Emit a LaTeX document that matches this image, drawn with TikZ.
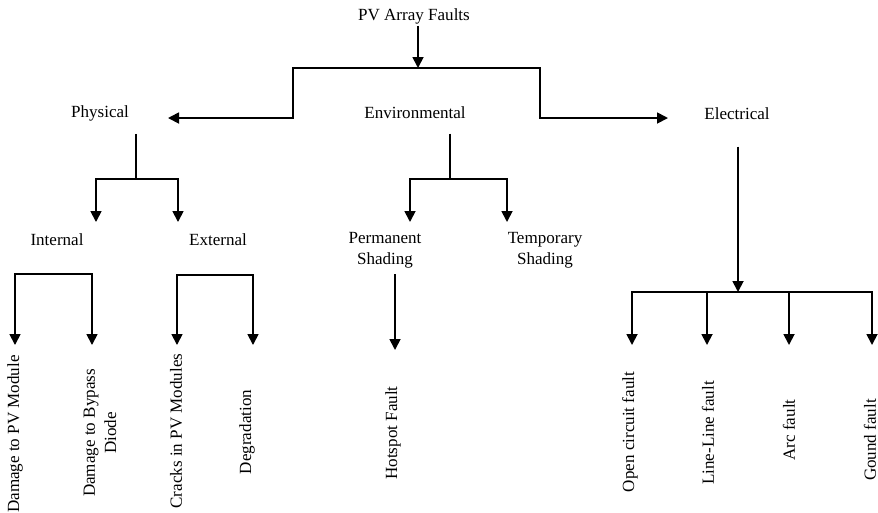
\documentclass[tikz,border=0pt]{standalone}
\usepackage{fontspec}
\setmainfont{Liberation Serif}
\usetikzlibrary{arrows.meta, positioning}

\begin{document}
\begin{tikzpicture}[x=0.02cm, y=-0.02cm,
	lbl/.style={font=\fontsize{9.7}{12}\selectfont, align=center, inner sep=1pt},
	vlbl/.style={lbl, rotate=90},
	ln/.style={line width=1pt},
	arr/.style={ln, -{Triangle[length=2.2mm, width=2.2mm]}}]
	\useasboundingbox (0,0) rectangle (878,512);
	% top level
	\node[lbl] at (414,16) (root) {PV Array Faults};
	\node[lbl] at (100,113) (phys) {Physical};
	\node[lbl] at (415,113) (env) {Environmental};
	\node[lbl] at (737,114) (elec) {Electrical};
	% second level
	\node[lbl] at (57,240) (int) {Internal};
	\node[lbl] at (218,240) (ext) {External};
	\node[lbl] at (385,250) (perm) {Permanent\\Shading};
	\node[lbl] at (545,250) (temp) {Temporary\\Shading};
	% leaves
	\node[vlbl] at (15,434) (dmg) {Damage to PV Module};
	\node[vlbl] at (100,433) (byp) {Damage to Bypass\\Diode};
	\node[vlbl] at (176,431) (crk) {Cracks in PV Modules};
	\node[vlbl] at (247,432) (deg) {Degradation};
	\node[vlbl] at (393,433) (hot) {Hotspot Fault};
	\node[vlbl] at (630,432) (open) {Open circuit fault};
	\node[vlbl] at (708,433) (lline) {Line-Line fault};
	\node[vlbl] at (789,430) (arc) {Arc fault};
	\node[vlbl] at (870,440) (gnd) {Gound fault};
	% junctions and arrow tips
	\coordinate (j0) at (418,68);
	\coordinate (tphys) at (168,118);
	\coordinate (telec) at (668,118);
	\coordinate (jphys) at (136,179);
	\coordinate (jenv) at (450,179);
	\coordinate (jelec) at (738,292);
	\coordinate (jint) at (int |- 0,274);
	\coordinate (jext) at (ext |- 0,275);
	\draw[arr] (root.south -| j0) -- (j0);
	\draw[arr] (j0) -- ++(-125,0) |- (tphys);
	\draw[arr] (j0) -- ++(122,0) |- (telec);
	% physical
	\draw[ln, shorten <=2.2mm] (jphys |- phys.south) -- (jphys);
	\draw[arr] (jphys) -| (96,222);
	\draw[arr] (jphys) -| (178,222);
	\draw[arr] (jint) -| (15,345);
	\draw[arr] (jint) -| (92,345);
	\draw[arr] (jext) -| (177,345);
	\draw[arr] (jext) -| (253,345);
	% environmental
	\draw[ln, shorten <=2.5mm] (jenv |- env.south) -- (jenv);
	\draw[arr] (jenv) -| (410,222);
	\draw[arr] (jenv) -| (507,222);
	\draw[arr, shorten <=0.8mm] (perm.south -| 395,0) -- (395,350);
	% electrical
	\draw[arr, shorten <=4.9mm] (jelec |- elec.south) -- (jelec);
	\draw[arr] (jelec) -| (632,345);
	\draw[arr] (jelec) -| (707,345);
	\draw[arr] (jelec) -| (789,345);
	\draw[arr] (jelec) -| (872,345);
\end{tikzpicture}
\end{document}
